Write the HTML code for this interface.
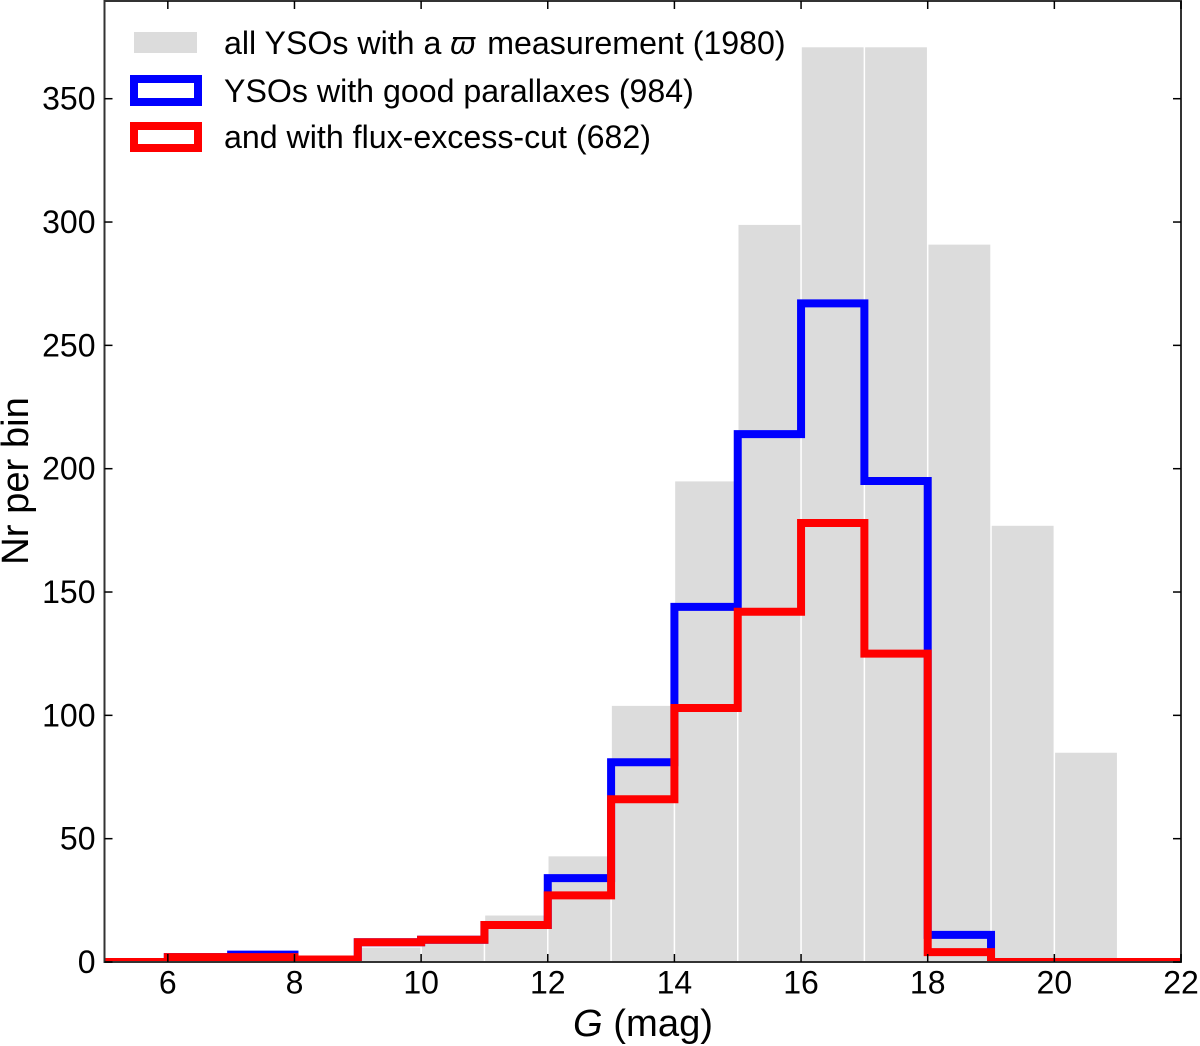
<!DOCTYPE html>
<html>
<head>
<meta charset="utf-8">
<title>G magnitude histogram</title>
<style>
html,body{margin:0;padding:0;background:#fff;}
svg{display:block;}
text{font-family:"Liberation Sans",sans-serif;fill:#000;}
</style>
</head>
<body>
<svg id="chart" xmlns="http://www.w3.org/2000/svg" width="1200" height="1046" viewBox="0 0 1200 1046">
  <defs>
    <clipPath id="plot-clip"><rect x="104.5" y="1" width="1076.5" height="961"/></clipPath>
  </defs>
  <rect x="0" y="0" width="1200" height="1046" fill="#fff"/>
  <g id="bars" clip-path="url(#plot-clip)"></g>
  <path id="blue-line" clip-path="url(#plot-clip)" fill="none" stroke="#0000ff" stroke-width="8" stroke-linejoin="miter"/>
  <path id="red-line" clip-path="url(#plot-clip)" fill="none" stroke="#ff0000" stroke-width="8" stroke-linejoin="miter"/>
  <rect x="104.5" y="1" width="1076.5" height="961" fill="none" stroke="#333" stroke-width="2"/>
  <g id="x-ticks"></g>
  <g id="y-ticks"></g>
  <text x="643" y="1036" font-size="38.2" text-anchor="middle"><tspan font-style="italic">G</tspan> (mag)</text>
  <text transform="translate(28,481) rotate(-90)" font-size="38.2" text-anchor="middle">Nr per bin</text>
  <g>
    <rect x="134" y="32" width="63" height="21" fill="#dcdcdc"/>
    <rect x="134" y="79" width="64" height="23" fill="none" stroke="#0000ff" stroke-width="8"/>
    <rect x="134" y="126" width="64" height="22" fill="none" stroke="#ff0000" stroke-width="8"/>
    <text x="224" y="54" font-size="32.15">all YSOs with a <tspan font-style="italic">ϖ</tspan><tspan dx="3"> measurement (1980)</tspan></text>
    <text x="224" y="102" font-size="32.15">YSOs with good parallaxes (984)</text>
    <text x="224" y="148" font-size="32.15">and with flux-excess-cut (682)</text>
  </g>
</svg>
<script>
const binEdges = [5,6,7,8,9,10,11,12,13,14,15,16,17,18,19,20,21,22];
const allCounts = [0,2,3,1,6,8,19,43,104,195,299,371,371,291,177,85,0];
const goodCounts = [0,2,3,1,8,9,15,34,81,144,214,267,195,11,0,0,0];
const cutCounts = [0,2,2,1,8,9,15,27,66,103,142,178,125,4,0,0,0];
const xTickValues = [6,8,10,12,14,16,18,20,22];
const yTickValues = [0,50,100,150,200,250,300,350];

const NS = 'http://www.w3.org/2000/svg';
function xScale(v){ return 104.5 + (v - 5) * (1181 - 104.5) / 17; }
function yScale(v){ return 962 - v * (962 - 98.7) / 350; }

function stepPath(counts){
  let d = 'M' + xScale(binEdges[0]) + ' ' + yScale(0);
  counts.forEach(function(c, i){
    d += 'L' + xScale(binEdges[i]) + ' ' + yScale(c);
    d += 'L' + xScale(binEdges[i + 1]) + ' ' + yScale(c);
  });
  d += 'L' + xScale(binEdges[binEdges.length - 1]) + ' ' + yScale(0);
  return d;
}

const barsGroup = document.getElementById('bars');
allCounts.forEach(function(c, i){
  if (c <= 0) return;
  const r = document.createElementNS(NS, 'rect');
  
  
  r.setAttribute('x', xScale(binEdges[i]) + 0.75);
  r.setAttribute('y', yScale(c) + 0.4);
  r.setAttribute('width', xScale(binEdges[i + 1]) - xScale(binEdges[i]) - 1.5);
  r.setAttribute('height', yScale(0) - yScale(c) - 0.4);
  r.setAttribute('fill', '#dcdcdc');
  barsGroup.appendChild(r);
});

document.getElementById('blue-line').setAttribute('d', stepPath(goodCounts));
document.getElementById('red-line').setAttribute('d', stepPath(cutCounts));

function tickLine(group, x1, y1, x2, y2){
  const l = document.createElementNS(NS, 'line');
  
  
  l.setAttribute('x1', x1);
  l.setAttribute('y1', y1);
  l.setAttribute('x2', x2);
  l.setAttribute('y2', y2);
  l.setAttribute('stroke', '#000');
  l.setAttribute('stroke-width', '1.5');
  group.appendChild(l);
}

const xGroup = document.getElementById('x-ticks');
xTickValues.forEach(function(v){
  const x = xScale(v);
  tickLine(xGroup, x, 962, x, 954);
  tickLine(xGroup, x, 1, x, 9);
  const t = document.createElementNS(NS, 'text');
  
  
  t.setAttribute('x', x);
  t.setAttribute('y', 993.5);
  t.setAttribute('font-size', '32');
  t.setAttribute('text-anchor', 'middle');
  t.textContent = v;
  xGroup.appendChild(t);
});

const yGroup = document.getElementById('y-ticks');
yTickValues.forEach(function(v){
  const y = yScale(v);
  tickLine(yGroup, 104.5, y, 112.5, y);
  tickLine(yGroup, 1181, y, 1173, y);
  const t = document.createElementNS(NS, 'text');
  
  
  t.setAttribute('x', 95.5);
  t.setAttribute('y', y + 11);
  t.setAttribute('font-size', '32');
  t.setAttribute('text-anchor', 'end');
  t.textContent = v;
  yGroup.appendChild(t);
});
</script>
</body>
</html>
